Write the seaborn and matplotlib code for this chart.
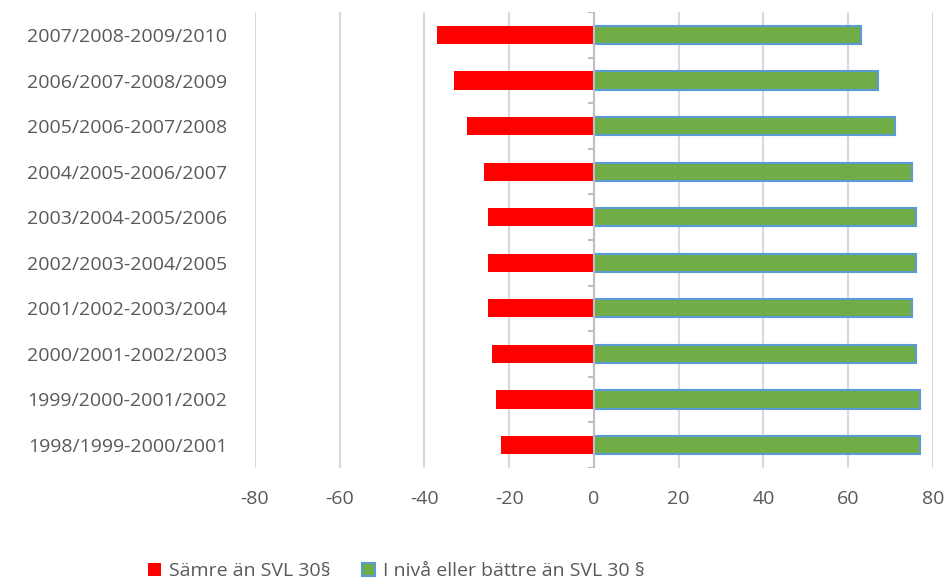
import numpy as np
import pandas as pd
import matplotlib
matplotlib.use('Agg')
import matplotlib.pyplot as plt
from matplotlib.patches import Patch
import seaborn as sns

# periods, top to bottom as shown in the chart
periods = [
    '2007/2008-2009/2010',
    '2006/2007-2008/2009',
    '2005/2006-2007/2008',
    '2004/2005-2006/2007',
    '2003/2004-2005/2006',
    '2002/2003-2004/2005',
    '2001/2002-2003/2004',
    '2000/2001-2002/2003',
    '1999/2000-2001/2002',
    '1998/1999-2000/2001',
]
worse = [-37, -33, -30, -26, -25, -25, -25, -24, -23, -22]
better = [63, 67, 71, 75, 76, 76, 75, 76, 77, 77]
x_ticks = [-80, -60, -40, -20, 0, 20, 40, 60, 80]

label_worse = 'Sämre än SVL 30§'
label_better = 'I nivå eller bättre än SVL 30 §'

red = '#ff0000'
green = '#70ad47'
edge_blue = '#5b9bd5'
text_col = '#595959'
grid_col = '#d9d9d9'

sns.set_theme(style='white')
plt.rcParams['font.family'] = ['Open Sans', 'DejaVu Sans']
plt.rcParams['axes.unicode_minus'] = False

df = pd.DataFrame({'period': periods, 'worse': worse, 'better': better})

fig = plt.figure(figsize=(9.48, 5.84), dpi=100)
ax = fig.add_axes([0.269, 0.199, 0.715, 0.780])

sns.barplot(data=df, y='period', x='worse', order=periods, orient='h',
            color=red, saturation=1, width=0.4, ax=ax, edgecolor='none')
sns.barplot(data=df, y='period', x='better', order=periods, orient='h',
            color=green, saturation=1, width=0.4, ax=ax,
            edgecolor=edge_blue, linewidth=1.5)

ax.set_xlim(-80, 80)
ax.set_xticks(x_ticks)
ax.set_ylim(len(periods) - 0.5, -0.5)
ax.set_xlabel('')
ax.set_ylabel('')

ax.grid(axis='x', color=grid_col, linewidth=1.5)
ax.set_axisbelow(True)
for s in ax.spines.values():
    s.set_visible(False)

# category axis at zero with tick marks between categories
ax.axvline(0, color='#bfbfbf', linewidth=1.5, zorder=3)
ax.hlines(np.arange(-0.5, len(periods)), -1.5, 0, color='#bfbfbf',
          linewidth=1.5, zorder=3)

ax.tick_params(axis='y', length=0, pad=20, labelsize=14, labelcolor=text_col)
ax.tick_params(axis='x', length=0, pad=16, labelsize=14, labelcolor=text_col)

handles = [Patch(facecolor=red, edgecolor='none', label=label_worse),
           Patch(facecolor=green, edgecolor=edge_blue, linewidth=1.5, label=label_better)]
fig.legend(handles=handles, loc='center', bbox_to_anchor=(0.418, 0.022), ncol=2,
           frameon=False, fontsize=14, labelcolor=text_col,
           handlelength=0.7, handleheight=0.7, handletextpad=0.4, columnspacing=1.6)

fig.savefig('out.png', dpi=100)
